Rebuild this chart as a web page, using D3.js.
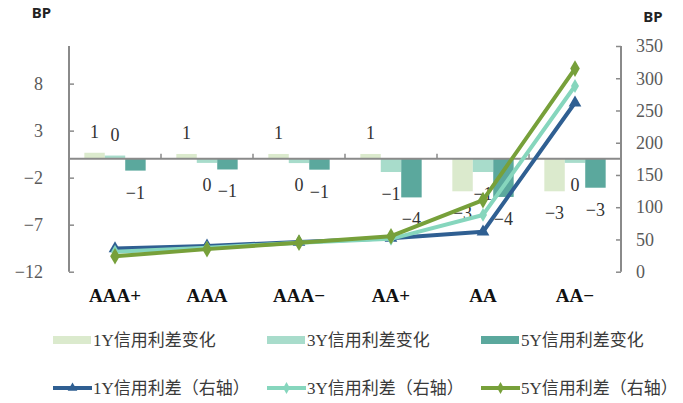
<!DOCTYPE html>
<html>
<head>
<meta charset="utf-8">
<script src="https://cdn.jsdelivr.net/npm/d3@7"></script>
<style>
  body { margin: 0; background: #fff; }
  svg { display: block; }
</style>
</head>
<body>
<svg id="chart" width="683" height="403"></svg>
<script>
// Rating buckets on the category axis
const categories = ["AAA+", "AAA", "AAA−", "AA+", "AA", "AA−"];

// Spread changes (BP, left axis) — bars
const changeNames = ["1Y信用利差变化", "3Y信用利差变化", "5Y信用利差变化"];
const change1Y = [0.65, 0.52, 0.52, 0.52, -3.45, -3.45];
const change3Y = [0.35, -0.43, -0.45, -1.4, -1.4, -0.43];
const change5Y = [-1.25, -1.13, -1.15, -4.1, -4.05, -3.07];

// Spread levels (BP, right axis) — lines
const spreadNames = ["1Y信用利差（右轴）", "3Y信用利差（右轴）", "5Y信用利差（右轴）"];
const spread1Y = [36, 40, 46, 52, 62, 262];
const spread3Y = [31, 37, 45, 51, 88, 288];
const spread5Y = [24, 35, 45, 55, 111, 315];

// Axis tick values
const leftTicks = [-12, -7, -2, 3, 8];
const rightTicks = [0, 50, 100, 150, 200, 250, 300, 350];

const barColors = ["#dbeacd", "#a8dccb", "#5ba89d"];
const lineColors = ["#2f5f92", "#86d6bd", "#77a03a"];
const symbols = [d3.symbolTriangle, d3.symbolDiamond, d3.symbolDiamond];
const symbolSizes = [70, 55, 80];

const changes = [change1Y, change3Y, change5Y];
const spreads = [spread1Y, spread3Y, spread5Y];

const plot = { left: 69, right: 621, top: 46, bottom: 271.7 };
const serif = "'Liberation Serif', 'Times New Roman', serif";
const cjk = "'Liberation Serif', 'Noto Sans CJK SC', serif";

const svg = d3.select("#chart");

const x = d3.scaleBand().domain(categories).range([plot.left, plot.right]).paddingInner(0).paddingOuter(0);
// three bars take 3 / 4.5 of each band
const groupW = x.bandwidth() * 3 / 4.5;
const xs = d3.scaleBand().domain([0, 1, 2]).range([0, groupW]).padding(0);
const groupOffset = (x.bandwidth() - groupW) / 2;

const yL = d3.scaleLinear().domain([-12, 12]).range([plot.bottom, plot.top]);
const yR = d3.scaleLinear().domain([0, 350]).range([plot.bottom, plot.top]);

const axisColor = "#8a8a8a";
const tickText = "#5a5a5a";

// Left axis
const gL = svg.append("g").attr("transform", `translate(${plot.left},0)`)
  .call(d3.axisRight(yL).tickValues(leftTicks).tickSize(5).tickFormat(d => d < 0 ? "−" + (-d) : d));
gL.select(".domain").attr("d", `M0,${plot.top}V${plot.bottom}`).attr("stroke", axisColor).attr("stroke-width", 2);
gL.selectAll(".tick line").attr("stroke", axisColor).attr("stroke-width", 1.5);
gL.selectAll(".tick text").attr("x", -26).attr("text-anchor", "end")
  .attr("font-family", serif).attr("font-size", 18).attr("fill", tickText);

// Right axis
const gR = svg.append("g").attr("transform", `translate(${plot.right},0)`)
  .call(d3.axisLeft(yR).tickValues(rightTicks).tickSize(5));
gR.select(".domain").attr("d", `M0,${plot.top}V${plot.bottom}`).attr("stroke", axisColor).attr("stroke-width", 2);
gR.selectAll(".tick line").attr("stroke", axisColor).attr("stroke-width", 1.5);
gR.selectAll(".tick text").attr("x", 15).attr("text-anchor", "start")
  .attr("font-family", serif).attr("font-size", 18).attr("fill", tickText);

// Unit captions
svg.append("text").attr("x", 41.5).attr("y", 17.5).attr("text-anchor", "middle")
  .attr("font-family", "'Noto Sans', 'Liberation Sans', sans-serif").attr("font-weight", "bold")
  .attr("font-size", 15).attr("fill", "#222").text("BP");
svg.append("text").attr("x", 653).attr("y", 22).attr("text-anchor", "middle")
  .attr("font-family", "'Noto Sans', 'Liberation Sans', sans-serif").attr("font-weight", "bold")
  .attr("font-size", 15).attr("fill", "#222").text("BP");

// Bars
const barData = [];
categories.forEach((c, i) => changes.forEach((arr, s) => barData.push({ c, s, v: arr[i] })));

svg.append("g").selectAll("rect").data(barData).join("rect")
  .attr("x", d => x(d.c) + groupOffset + xs(d.s))
  .attr("width", xs.bandwidth())
  .attr("y", d => yL(Math.max(0, d.v)))
  .attr("height", d => Math.abs(yL(d.v) - yL(0)))
  .attr("fill", d => barColors[d.s]);

// Category axis on the zero line
const gX = svg.append("g").attr("transform", `translate(0,${yL(0)})`)
  .call(d3.axisTop(x).tickSize(0).tickFormat(""));
gX.select(".domain").attr("d", `M${plot.left},0H${plot.right}`).attr("stroke", axisColor).attr("stroke-width", 2);
gX.selectAll(".tick").remove();
gX.selectAll("line.sep").data(categories.slice(1)).join("line").attr("class", "sep")
  .attr("x1", d => x(d)).attr("x2", d => x(d)).attr("y1", 0).attr("y2", -5)
  .attr("stroke", axisColor).attr("stroke-width", 1.5);

// Category labels
svg.append("g").selectAll("text").data(categories).join("text")
  .attr("x", d => x(d) + x.bandwidth() / 2).attr("y", 302)
  .attr("text-anchor", "middle").attr("font-family", serif).attr("font-weight", "bold")
  .attr("font-size", 19).attr("fill", "#111").text(d => d);

// Bar value labels
const fmt = v => { const r = Math.round(v); return r === 0 ? "0" : (r < 0 ? "−" + (-r) : String(r)); };
svg.append("g").selectAll("text").data(barData).join("text")
  .attr("x", d => x(d.c) + groupOffset + xs(d.s) + xs.bandwidth() / 2)
  .attr("y", d => d.v >= 0 ? yL(d.v) - 15 : yL(d.v) + 28)
  .attr("text-anchor", "middle").attr("font-family", serif)
  .attr("font-size", 18).attr("fill", "#333").text(d => fmt(d.v));

// Spread lines
const line = d3.line().x((d, i) => x(categories[i]) + x.bandwidth() / 2).y(d => yR(d));
spreads.forEach((arr, s) => {
  svg.append("path").datum(arr).attr("d", line)
    .attr("fill", "none").attr("stroke", lineColors[s]).attr("stroke-width", 4)
    .attr("stroke-linejoin", "round");
  svg.append("g").selectAll("path").data(arr).join("path")
    .attr("transform", (d, i) => `translate(${x(categories[i]) + x.bandwidth() / 2},${yR(d)})`)
    .attr("d", d3.symbol().type(symbols[s]).size(symbolSizes[s]))
    .attr("fill", lineColors[s]);
});

// Legend
const colX = [53, 267, 481];
const legend = svg.append("g");
changeNames.forEach((n, s) => {
  legend.append("rect").attr("x", colX[s]).attr("y", 336).attr("width", 38).attr("height", 8).attr("fill", barColors[s]);
  legend.append("text").attr("x", colX[s] + 40).attr("y", 346)
    .attr("font-family", cjk).attr("font-size", 17).attr("fill", "#3a3a3a").text(n);
});
spreadNames.forEach((n, s) => {
  legend.append("line").attr("x1", colX[s]).attr("x2", colX[s] + 39).attr("y1", 388).attr("y2", 388)
    .attr("stroke", lineColors[s]).attr("stroke-width", 4);
  legend.append("path").attr("transform", `translate(${colX[s] + 19.5},388)`)
    .attr("d", d3.symbol().type(symbols[s]).size(40)).attr("fill", lineColors[s]);
  legend.append("text").attr("x", colX[s] + 40).attr("y", 394)
    .attr("font-family", cjk).attr("font-size", 17).attr("fill", "#3a3a3a").text(n);
});
</script>
</body>
</html>
